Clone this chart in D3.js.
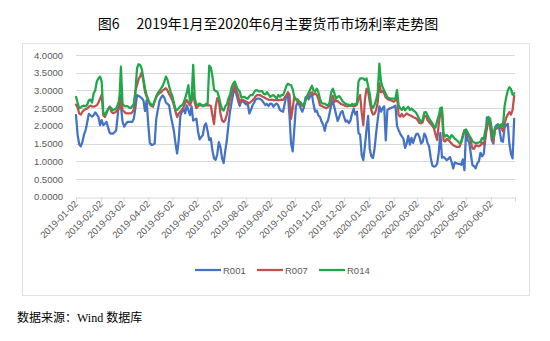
<!DOCTYPE html>
<html><head><meta charset="utf-8">
<script src="https://cdn.jsdelivr.net/npm/d3@7/dist/d3.min.js"></script>
<style>
html,body{margin:0;padding:0;background:#fff;}
svg{display:block;}
</style></head>
<body>
<svg id="c" width="550" height="341"></svg>
<script>
const title = "图6\u3000 2019年1月至2020年6月主要货币市场利率走势图";
const source = "数据来源：Wind 数据库";
const seriesNames = ["R001", "R007", "R014"];
const yTickValues = [0, 0.5, 1, 1.5, 2, 2.5, 3, 3.5, 4];
const monthTicks = ["2019-01-02","2019-02-02","2019-03-02","2019-04-02","2019-05-02","2019-06-02","2019-07-02","2019-08-02","2019-09-02","2019-10-02","2019-11-02","2019-12-02","2020-01-02","2020-02-02","2020-03-02","2020-04-02","2020-05-02","2020-06-02","2020-07-02"];

const dates = [
"2019-01-02","2019-01-04","2019-01-06","2019-01-08","2019-01-10","2019-01-12","2019-01-14","2019-01-16","2019-01-18","2019-01-20","2019-01-22","2019-01-24","2019-01-26","2019-01-28","2019-01-30",
"2019-02-01","2019-02-03","2019-02-05","2019-02-07","2019-02-09","2019-02-11","2019-02-13","2019-02-15","2019-02-17","2019-02-19","2019-02-21","2019-02-23","2019-02-25","2019-02-27",
"2019-03-01","2019-03-03","2019-03-05","2019-03-07","2019-03-09","2019-03-11","2019-03-13","2019-03-15","2019-03-17","2019-03-19","2019-03-21","2019-03-23","2019-03-25","2019-03-27","2019-03-29","2019-03-31",
"2019-04-02","2019-04-04","2019-04-06","2019-04-08","2019-04-10","2019-04-12","2019-04-14","2019-04-16","2019-04-18","2019-04-20","2019-04-22","2019-04-24","2019-04-26","2019-04-28","2019-04-30",
"2019-05-02","2019-05-04","2019-05-06","2019-05-08","2019-05-10","2019-05-12","2019-05-14","2019-05-16","2019-05-18","2019-05-20","2019-05-22","2019-05-24","2019-05-26","2019-05-28","2019-05-30",
"2019-06-01","2019-06-03","2019-06-05","2019-06-07","2019-06-09","2019-06-11","2019-06-13","2019-06-15","2019-06-17","2019-06-19","2019-06-21","2019-06-23","2019-06-25","2019-06-27","2019-06-29",
"2019-07-01","2019-07-03","2019-07-05","2019-07-07","2019-07-09","2019-07-11","2019-07-13","2019-07-15","2019-07-17","2019-07-19","2019-07-21","2019-07-23","2019-07-25","2019-07-27","2019-07-29","2019-07-31",
"2019-08-02","2019-08-04","2019-08-06","2019-08-08","2019-08-10","2019-08-12","2019-08-14","2019-08-16","2019-08-18","2019-08-20","2019-08-22","2019-08-24","2019-08-26","2019-08-28","2019-08-30",
"2019-09-01","2019-09-03","2019-09-05","2019-09-07","2019-09-09","2019-09-11","2019-09-13","2019-09-15","2019-09-17","2019-09-19","2019-09-21","2019-09-23","2019-09-25","2019-09-27","2019-09-29",
"2019-10-01","2019-10-03","2019-10-05","2019-10-07","2019-10-09","2019-10-11","2019-10-13","2019-10-15","2019-10-17","2019-10-19","2019-10-21","2019-10-23","2019-10-25","2019-10-27","2019-10-29","2019-10-31",
"2019-11-02","2019-11-04","2019-11-06","2019-11-08","2019-11-10","2019-11-12","2019-11-14","2019-11-16","2019-11-18","2019-11-20","2019-11-22","2019-11-24","2019-11-26","2019-11-28","2019-11-30",
"2019-12-02","2019-12-04","2019-12-06","2019-12-08","2019-12-10","2019-12-12","2019-12-14","2019-12-16","2019-12-18","2019-12-20","2019-12-22","2019-12-24","2019-12-26","2019-12-28","2019-12-30",
"2020-01-01","2020-01-03","2020-01-05","2020-01-07","2020-01-09","2020-01-11","2020-01-13","2020-01-15","2020-01-17","2020-01-19","2020-01-21","2020-01-23","2020-01-25","2020-01-27","2020-01-29","2020-01-31",
"2020-02-02","2020-02-04","2020-02-06","2020-02-08","2020-02-10","2020-02-12","2020-02-14","2020-02-16","2020-02-18","2020-02-20","2020-02-22","2020-02-24","2020-02-26","2020-02-28",
"2020-03-01","2020-03-03","2020-03-05","2020-03-07","2020-03-09","2020-03-11","2020-03-13","2020-03-15","2020-03-17","2020-03-19","2020-03-21","2020-03-23","2020-03-25","2020-03-27","2020-03-29","2020-03-31",
"2020-04-02","2020-04-04","2020-04-06","2020-04-08","2020-04-10","2020-04-12","2020-04-14","2020-04-16","2020-04-18","2020-04-20","2020-04-22","2020-04-24","2020-04-26","2020-04-28","2020-04-30",
"2020-05-02","2020-05-04","2020-05-06","2020-05-08","2020-05-10","2020-05-12","2020-05-14","2020-05-16","2020-05-18","2020-05-20","2020-05-22","2020-05-24","2020-05-26","2020-05-28","2020-05-30",
"2020-06-01","2020-06-03","2020-06-05","2020-06-07","2020-06-09","2020-06-11","2020-06-13","2020-06-15","2020-06-17","2020-06-19","2020-06-21","2020-06-23","2020-06-25","2020-06-27","2020-06-29",
"2020-07-01"
];

const r001 = [
2.30,1.75,1.48,1.42,1.55,1.75,1.88,2.10,2.34,2.30,
2.26,2.30,2.38,2.32,2.25,2.02,2.16,2.02,2.06,2.11,
1.95,1.80,1.78,1.78,1.82,1.87,2.30,2.80,2.55,2.12,
1.98,2.05,2.11,2.11,2.11,2.11,2.20,2.50,2.87,2.84,
2.82,2.78,2.72,2.42,2.72,2.05,1.52,1.46,1.47,1.50,
2.20,2.45,2.70,2.80,2.86,2.80,2.66,2.62,2.58,2.30,
2.08,1.85,1.50,1.22,1.60,2.28,2.40,2.48,2.35,2.58,
2.45,2.30,2.55,2.15,2.18,2.20,1.85,1.62,1.68,1.74,
2.00,2.07,1.85,1.60,
1.65,1.30,1.08,1.04,1.20,1.54,
1.40,1.08,0.95,1.30,1.60,2.05,2.42,2.68,2.92,3.05,
2.88,2.70,2.56,2.70,2.69,2.65,2.60,2.62,2.35,2.45,
2.58,2.66,2.75,2.77,2.77,2.75,2.71,2.65,2.59,2.62,
2.56,2.63,2.62,2.54,2.60,2.63,2.58,2.45,2.42,2.40,
2.62,2.85,2.87,2.30,1.50,1.28,1.90,2.55,2.66,2.60,
2.50,2.40,2.52,2.80,2.83,2.75,2.84,2.88,2.60,2.40,
2.43,2.30,2.25,2.12,2.03,1.86,2.08,2.15,2.36,2.58,
2.70,2.52,2.33,2.14,2.25,2.38,2.42,2.25,2.12,2.15,
2.08,2.15,2.35,2.48,2.32,2.40,1.80,
1.75,1.17,1.03,
1.43,1.90,2.28,1.35,1.14,1.09,1.35,1.80,2.18,2.55,
2.40,2.50,2.55,1.59,2.45,2.48,2.50,2.52,2.54,2.57,
2.00,1.88,1.78,1.70,1.63,1.38,1.50,1.72,1.47,1.66,
1.52,1.66,1.77,1.78,1.68,1.50,1.55,1.78,1.70,1.52,
1.42,1.10,0.88,0.85,0.86,0.93,1.25,1.80,1.10,1.12,
1.08,1.03,1.07,1.12,0.98,0.80,0.97,0.94,0.93,0.93,
0.90,1.05,0.75,1.85,1.60,1.52,1.20,0.89,0.86,0.80,
0.94,1.00,1.24,1.14,1.20,1.62,2.24,2.15,2.00,1.60,
1.50,1.95,2.02,2.05,1.85,1.57,1.55,1.95,2.02,2.06,
1.50,1.20,1.08,2.20
];

const r007 = [
2.60,2.52,2.35,2.32,2.40,2.45,2.47,2.49,2.54,2.57,
2.55,2.54,2.56,2.58,2.66,2.77,2.87,2.30,2.25,2.35,
2.48,2.54,2.40,2.36,2.37,2.40,2.45,2.49,2.87,2.44,
2.40,2.36,2.35,2.35,2.35,2.38,2.45,2.98,3.15,3.32,
3.40,3.52,3.25,2.96,2.82,2.72,2.60,2.56,2.54,2.70,
2.80,2.88,2.92,2.95,3.00,3.03,3.06,3.00,2.90,2.82,
2.72,2.58,2.40,2.25,2.35,2.40,2.46,2.52,2.64,2.73,
2.65,2.58,2.70,2.92,2.65,2.50,2.55,2.58,2.58,2.58,
2.58,2.58,2.58,2.58,
2.56,2.30,2.05,2.55,2.78,2.70,
2.35,2.15,2.11,2.17,2.32,2.54,2.77,2.92,3.06,3.15,
2.97,2.87,2.62,2.74,2.73,2.71,2.68,2.66,2.64,2.68,
2.72,2.77,2.84,2.87,2.87,2.86,2.83,2.81,2.78,2.76,
2.74,2.73,2.74,2.72,2.73,2.73,2.72,2.73,2.74,2.73,
2.80,2.86,2.95,2.88,2.20,2.50,2.82,2.75,2.70,2.66,
2.60,2.56,2.58,2.73,2.80,2.88,2.93,2.95,2.88,2.92,
2.87,2.76,2.58,2.56,2.54,2.52,2.50,2.53,2.58,2.74,
2.85,2.68,2.70,2.70,2.66,2.62,2.60,2.58,2.56,2.55,
2.56,2.58,2.56,2.55,2.56,2.60,2.77,
2.87,2.38,2.02,
2.75,3.05,2.97,2.68,2.44,2.32,2.34,2.45,2.68,3.20,
2.95,2.98,2.92,2.80,2.76,2.74,2.72,2.70,2.68,2.72,
2.85,2.30,2.26,2.34,2.26,2.30,2.35,2.32,2.30,2.28,
2.25,2.23,2.21,2.15,2.08,2.07,2.10,2.28,2.28,2.17,
2.10,2.05,2.00,1.94,1.75,1.60,2.05,2.37,2.40,1.58,
1.56,1.63,1.60,1.55,1.50,1.45,1.43,1.41,1.41,1.41,
1.55,1.74,1.88,1.84,1.74,1.68,1.55,1.36,1.35,1.45,
1.44,1.42,1.45,1.53,1.47,1.68,1.92,2.18,2.00,1.75,
1.55,1.90,1.92,1.95,2.01,1.93,1.85,2.05,2.22,2.32,
2.39,2.32,2.45,2.85
];

const r014 = [
2.82,2.65,2.50,2.52,2.56,2.57,2.55,2.60,2.72,2.74,
2.66,2.92,3.00,3.26,3.34,3.39,3.25,2.38,2.30,2.40,
2.46,2.54,2.50,2.44,2.46,2.49,2.60,2.72,3.67,2.63,
2.56,2.55,2.56,2.52,2.50,2.55,2.62,2.95,3.62,3.74,
3.72,3.60,3.33,3.06,2.87,2.74,2.64,2.60,2.58,2.70,
2.84,2.93,2.99,3.06,3.13,3.25,3.39,3.30,3.12,2.96,
2.84,2.65,2.47,2.45,2.50,2.55,2.58,2.64,2.78,2.93,
3.15,2.68,2.76,3.72,2.78,2.60,2.60,2.63,2.60,2.55,
2.58,2.62,2.62,3.70,
3.65,3.40,3.02,2.98,2.97,2.82,
2.63,2.47,2.43,2.55,2.60,2.78,2.88,3.10,3.20,3.25,
3.11,3.02,2.97,2.80,2.81,2.82,2.78,2.77,2.84,2.87,
2.87,2.95,3.01,3.00,2.97,2.98,2.98,2.90,2.89,2.95,
2.88,2.82,2.85,2.87,2.82,2.77,2.87,2.82,2.87,2.87,
2.98,3.12,3.19,3.16,3.15,3.03,2.82,2.75,2.75,2.70,
2.66,2.60,2.58,2.72,2.85,2.94,3.04,3.13,3.00,2.97,
3.05,2.95,2.77,2.64,2.63,2.63,2.59,2.58,2.66,2.95,
3.05,2.92,2.76,2.82,2.84,2.78,2.70,2.66,2.62,2.60,
2.60,2.56,2.62,2.59,2.62,2.62,3.25,
3.34,3.34,3.34,
3.29,3.34,3.12,2.90,2.58,2.50,2.60,2.73,2.95,3.76,
3.25,3.10,3.00,2.90,2.81,2.78,2.77,2.77,2.77,2.77,
3.01,2.58,2.49,2.45,2.53,2.44,2.49,2.54,2.45,2.49,
2.44,2.41,2.36,2.27,2.18,2.12,2.18,2.38,2.39,2.30,
2.20,2.14,2.07,1.99,1.95,2.14,2.28,2.50,2.52,1.78,
1.70,1.74,1.69,1.64,1.74,1.69,1.64,1.60,1.56,1.51,
1.54,1.68,1.86,1.90,1.82,1.72,1.66,1.56,1.53,1.52,
1.52,1.53,1.55,1.66,1.62,1.86,2.05,2.25,2.20,1.92,
1.64,1.92,1.97,2.02,1.98,2.05,1.98,2.55,2.80,3.00,
3.09,3.04,2.88,2.92
];

const seriesColors = ["#4472C4", "#C0504D", "#1FA84A"];

// ---- drawing ----
const svg = d3.select("#c");
const parse = d3.timeParse("%Y-%m-%d");
const fmt = d3.timeFormat("%Y-%m-%d");

// chart frame
svg.append("rect").attr("x", 22.5).attr("y", 43.5).attr("width", 507).attr("height", 252)
  .attr("fill", "#fff").attr("stroke", "#d9d9d9").attr("stroke-width", 0.75);

svg.append("text").attr("x", 268).attr("y", 29).attr("text-anchor", "middle")
  .attr("font-family", "'Noto Sans CJK SC', sans-serif").attr("font-size", 14)
  .attr("fill", "#000").text(title);

const x = d3.scaleTime().domain([parse(monthTicks[0]), parse(monthTicks[monthTicks.length - 1])]).range([76, 515]);
const y = d3.scaleLinear().domain([0, 4]).range([196.7, 55]);

// gridlines
svg.append("g").selectAll("line").data(yTickValues.filter(v => v > 0)).join("line")
  .attr("x1", 76).attr("x2", 515)
  .attr("y1", d => Math.round(y(d)) + 0.5).attr("y2", d => Math.round(y(d)) + 0.5)
  .attr("stroke", "#d9d9d9").attr("stroke-width", 1);

// y axis labels
const yAxis = d3.axisLeft(y).tickValues(yTickValues).tickFormat(d3.format(".4f")).tickSize(0).tickPadding(0);
const gy = svg.append("g").attr("transform", "translate(63,0)").call(yAxis);
gy.select(".domain").remove();
gy.selectAll("text").attr("font-family", "'Liberation Sans', Arial, sans-serif").attr("font-size", 9.5).attr("fill", "#595959");

// x axis
const xAxis = d3.axisBottom(x).tickValues(monthTicks.map(parse)).tickSize(4)
  .tickFormat((d, i) => i < monthTicks.length - 1 ? fmt(d) : "");
const gx = svg.append("g").attr("transform", `translate(0,${Math.round(y(0)) + 0.5})`).call(xAxis);
gx.select(".domain").attr("stroke", "#d9d9d9").attr("stroke-width", 1);
gx.selectAll(".tick line").attr("stroke", "#d9d9d9");
gx.selectAll("text")
  .attr("font-family", "'Liberation Sans', Arial, sans-serif").attr("font-size", 9.5).attr("fill", "#595959")
  .attr("text-anchor", "end").attr("dy", null).attr("y", 0)
  .attr("transform", "translate(2,7) rotate(-45)");

// lines
const allSeries = [r001, r007, r014];
const line = d3.line()
  .defined(d => d.v != null && !isNaN(d.v))
  .x(d => x(d.date)).y(d => y(d.v));
allSeries.forEach((vals, si) => {
  const data = dates.map((dt, i) => ({date: parse(dt), v: vals[i]}));
  svg.append("path").datum(data).attr("d", line)
    .attr("fill", "none").attr("stroke", seriesColors[si]).attr("stroke-width", 2.25)
    .attr("stroke-linejoin", "round").attr("stroke-linecap", "round");
});

// legend
const legendX = [195, 257, 319];
const lg = svg.append("g");
seriesNames.forEach((name, i) => {
  lg.append("line").attr("x1", legendX[i]).attr("x2", legendX[i] + 26).attr("y1", 270).attr("y2", 270)
    .attr("stroke", seriesColors[i]).attr("stroke-width", 2.25);
  lg.append("text").attr("x", legendX[i] + 28).attr("y", 273.5)
    .attr("font-family", "'Liberation Sans', Arial, sans-serif").attr("font-size", 9.5).attr("fill", "#595959")
    .text(name);
});

// source
svg.append("text").attr("x", 17).attr("y", 322)
  .attr("font-family", "'Liberation Serif', 'Noto Sans CJK SC', serif").attr("font-size", 12)
  .attr("fill", "#000").text(source);
</script>
</body></html>
